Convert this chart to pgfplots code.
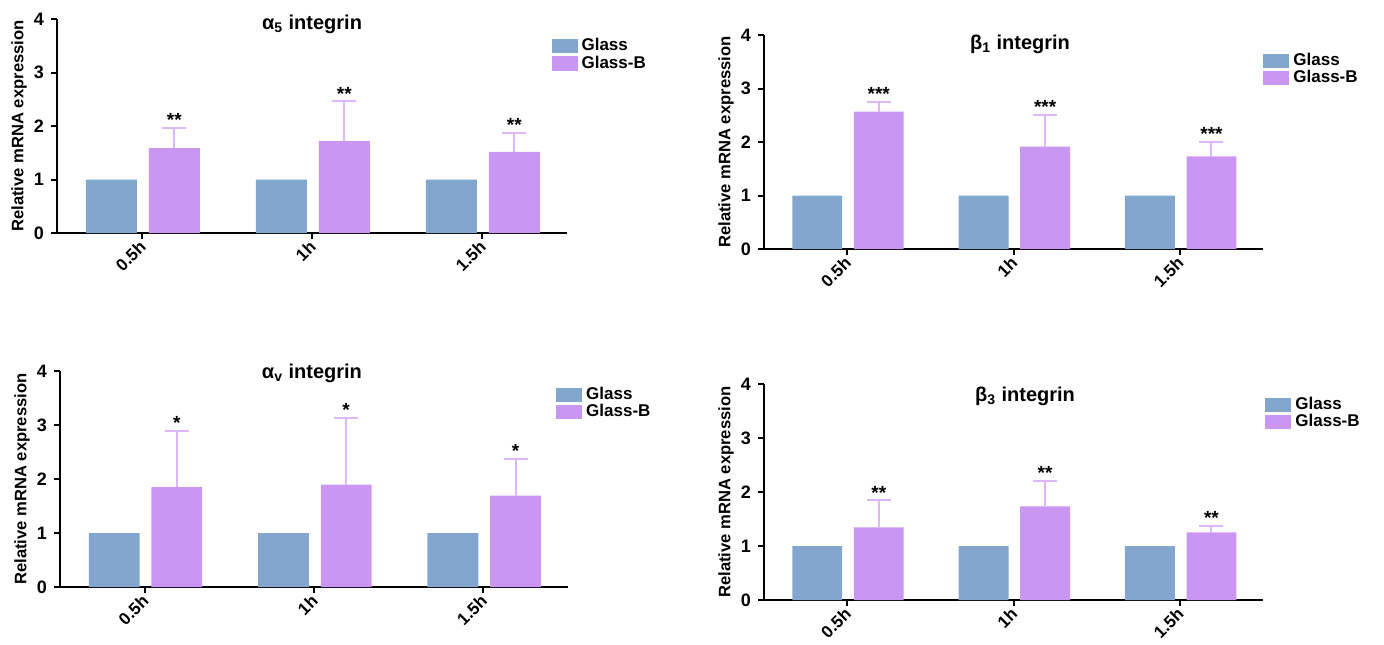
\documentclass[border=0pt]{standalone}
\usepackage{fontspec}
\setmainfont{Liberation Sans}
\usepackage{pgfplots}
\pgfplotsset{compat=1.18}
\definecolor{cglass}{RGB}{130,166,206}
\definecolor{cglassb}{RGB}{201,150,242}
\definecolor{cerr}{RGB}{222,182,250}
\pgfplotsset{
  panel/.style={
    scale only axis, width=#1,
    ymin=0, ymax=4, ytick={0,1,2,3,4},
    xmin=-0.5, xmax=2.5, xtick={0,1,2}, xticklabels={0.5h,1h,1.5h},
    axis x line*=bottom, axis y line*=left,
    axis line style={line width=1pt,-},
    tick style={black, line width=1pt}, major tick length=3pt, tick align=outside,
    ticklabel style={font=\bfseries\fontsize{9}{10}\selectfont},
    /pgf/number format/assume math mode=true,
    xticklabel style={rotate=45, anchor=east, font=\bfseries\fontsize{8.5}{9}\selectfont, xshift=2pt, yshift=-2pt},
    every axis y label/.style={at={(axis description cs:0,0.5)}, xshift=-19pt, rotate=90, anchor=center, font=\bfseries\fontsize{8.3}{9}\selectfont},
    ylabel={Relative mRNA expression},
    ybar, bar width=0.3,
    legend style={draw=none, fill=none, font=\bfseries\fontsize{8.5}{9.5}\selectfont, anchor=north west, inner sep=0pt, row sep=-3pt},
    legend image code/.code={\fill[##1] (0pt,-3.6pt) rectangle (13pt,3.6pt);},
    legend cell align=left,
    clip=false,
  },
  gl/.style={fill=cglass, draw=none, bar shift=-0.18},
  gb/.style={fill=cglassb, draw=none, bar shift=0.19,
    error bars/.cd, y dir=plus, y explicit,
    error bar style={cerr, line width=1pt},
    error mark options={cerr, line width=1pt, mark size=6pt, rotate=90}},
}
\newcommand\ttl[1]{\bfseries\fontsize{10}{11}\selectfont #1}
\newcommand\st{\bfseries\fontsize{9.5}{10}\selectfont}
\begin{document}
\begin{tikzpicture}
\useasboundingbox (0,0) rectangle (692pt,322pt);
% Panel 1: alpha5
\begin{axis}[panel=255pt, height=107pt, at={(28.5pt,205.5pt)}, anchor=south west,
  legend style={at={(0.969,0.93)}}]
\addplot[gl] coordinates {(0,1) (1,1) (2,1)};
\addplot[gb] coordinates {(0,1.585) +- (0,0.381) (1,1.716) +- (0,0.743) (2,1.516) +- (0,0.362)};
\legend{Glass,Glass-B}
\node[font=\ttl{}] at (rel axis cs:0.5,0.975) {α\textsubscript{5} integrin};
\node[font=\st, above, inner sep=0.5pt] at (axis cs:0.19,1.966) {**};
\node[font=\st, above, inner sep=0.5pt] at (axis cs:1.19,2.459) {**};
\node[font=\st, above, inner sep=0.5pt] at (axis cs:2.19,1.878) {**};
\end{axis}
% Panel 2: beta1
\begin{axis}[panel=249.5pt, height=107pt, at={(382pt,197.5pt)}, anchor=south west,
  legend style={at={(1.0,0.935)}}]
\addplot[gl] coordinates {(0,1) (1,1) (2,1)};
\addplot[gb] coordinates {(0,2.567) +- (0,0.181) (1,1.913) +- (0,0.598) (2,1.732) +- (0,0.274)};
\legend{Glass,Glass-B}
\node[font=\ttl{}] at (rel axis cs:0.513,0.955) {β\textsubscript{1} integrin};
\node[font=\st, above, inner sep=0.5pt] at (axis cs:0.19,2.748) {***};
\node[font=\st, above, inner sep=0.5pt] at (axis cs:1.19,2.511) {***};
\node[font=\st, above, inner sep=0.5pt] at (axis cs:2.19,2.006) {***};
\end{axis}
% Panel 3: alphav
\begin{axis}[panel=254pt, height=108pt, at={(30pt,28.5pt)}, anchor=south west,
  legend style={at={(0.976,0.945)}}]
\addplot[gl] coordinates {(0,1) (1,1) (2,1)};
\addplot[gb] coordinates {(0,1.848) +- (0,1.048) (1,1.898) +- (0,1.234) (2,1.693) +- (0,0.682)};
\legend{Glass,Glass-B}
\node[font=\ttl{}] at (rel axis cs:0.496,0.99) {α\textsubscript{v} integrin};
\node[font=\st, above, inner sep=0.5pt] at (axis cs:0.19,2.896) {*};
\node[font=\st, above, inner sep=0.5pt] at (axis cs:1.19,3.132) {*};
\node[font=\st, above, inner sep=0.5pt] at (axis cs:2.19,2.375) {*};
\end{axis}
% Panel 4: beta3
\begin{axis}[panel=249.5pt, height=108pt, at={(382pt,22pt)}, anchor=south west,
  legend style={at={(1.004,0.96)}}]
\addplot[gl] coordinates {(0,1) (1,1) (2,1)};
\addplot[gb] coordinates {(0,1.346) +- (0,0.498) (1,1.732) +- (0,0.480) (2,1.252) +- (0,0.119)};
\legend{Glass,Glass-B}
\node[font=\ttl{}] at (rel axis cs:0.523,0.945) {β\textsubscript{3} integrin};
\node[font=\st, above, inner sep=0.5pt] at (axis cs:0.19,1.844) {**};
\node[font=\st, above, inner sep=0.5pt] at (axis cs:1.19,2.212) {**};
\node[font=\st, above, inner sep=0.5pt] at (axis cs:2.19,1.371) {**};
\end{axis}
\end{tikzpicture}
\end{document}
